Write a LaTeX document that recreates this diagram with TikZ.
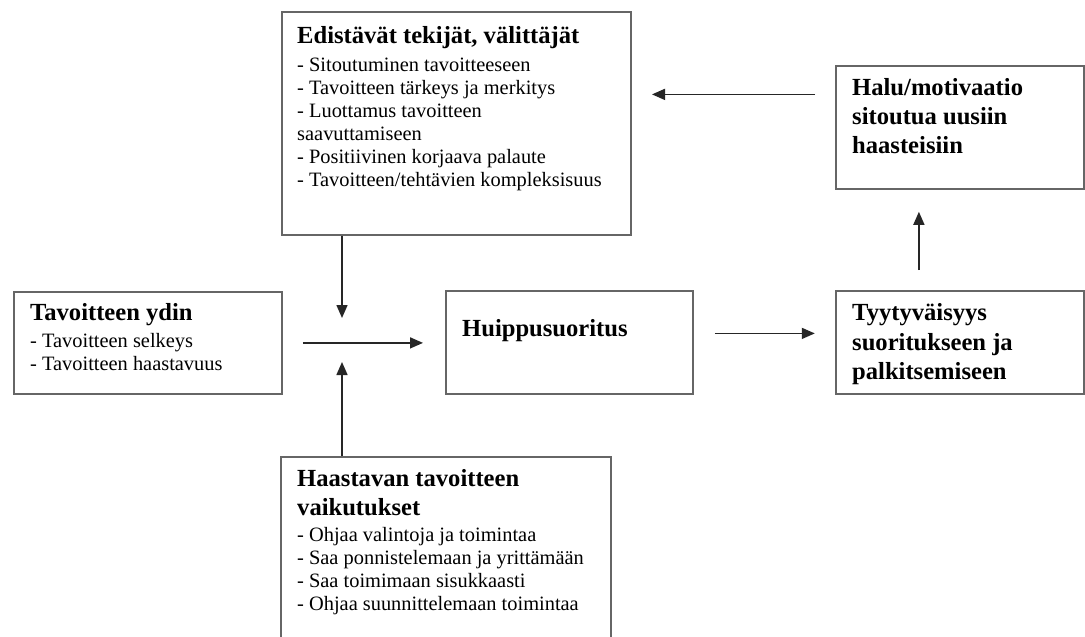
\documentclass[tikz,border=0pt]{standalone}
\usepackage{fontspec}
\setmainfont{Liberation Serif}
\usetikzlibrary{arrows.meta}
\begin{document}
\begin{tikzpicture}[x=1pt,y=-1pt,
	box/.style={draw=black!60, line width=1.8pt, inner sep=0pt, anchor=north west},
	heading/.style={anchor=base west, inner sep=0pt, font=\fontsize{24.6}{29}\selectfont\bfseries},
	item/.style={anchor=base west, inner sep=0pt, font=\fontsize{20.4}{23.4}\selectfont},
	arr/.style={draw=black!85, line width=1.5pt, -{Triangle[length=13pt,width=11pt]}}]
			\useasboundingbox (0,0) rectangle (1085,637);
			\clip (0,0) rectangle (1085,637);
			\fill[white] (0,0) rectangle (1085,637);
			% laatikot
			\node[box, minimum width=349pt, minimum height=223pt] (edist) at (281,11) {};
			\node[box, minimum width=268pt, minimum height=102pt] (ydin) at (13,291) {};
			\node[box, minimum width=247pt, minimum height=103pt] (huippu) at (445,290) {};
			\node[box, minimum width=248pt, minimum height=103pt] (tyyty) at (835,290) {};
			\node[box, minimum width=248pt, minimum height=123pt] (halu) at (835,65) {};
			\node[box, minimum width=330pt, minimum height=204pt] (haast) at (280,456) {};
			% tekstit
			\node[heading] (edist-t) at (297,43) {Edistävät tekijät, välittäjät};
			\foreach \t [count=\i] in {- Sitoutuminen tavoitteeseen, - Tavoitteen tärkeys ja merkitys,
				- Luottamus tavoitteen, saavuttamiseen, - Positiivinen korjaava palaute,
				{- Tavoitteen/tehtävien kompleksisuus}}{
				\node[item] (edist-\i) at (297,{48+23*\i}) {\t};
			}
			\node[heading] (ydin-t) at (30,320) {Tavoitteen ydin};
			\foreach \t [count=\i] in {- Tavoitteen selkeys, - Tavoitteen haastavuus}{
				\node[item] (ydin-\i) at (30,{324+23*\i}) {\t};
			}
			\node[heading] (huippu-t) at (462,336) {Huippusuoritus};
			\foreach \t [count=\i] in {Tyytyväisyys, suoritukseen ja, palkitsemiseen}{
				\node[heading] (tyyty-\i) at (852,{291+29.5*\i}) {\t};
			}
			\foreach \t [count=\i] in {{Halu/motivaatio}, sitoutua uusiin, haasteisiin}{
				\node[heading] (halu-\i) at (852,{66+29*\i}) {\t};
			}
			\foreach \t [count=\i] in {Haastavan tavoitteen, vaikutukset}{
				\node[heading] (haast-t\i) at (297,{457+29*\i}) {\t};
			}
			\foreach \t [count=\i] in {- Ohjaa valintoja ja toimintaa, - Saa ponnistelemaan ja yrittämään,
				- Saa toimimaan sisukkaasti, - Ohjaa suunnittelemaan toimintaa}{
				\node[item] (haast-\i) at (297,{518+23*\i}) {\t};
			}
			% nuolet
			\coordinate (alas) at (342,318);
			\coordinate (ylos) at (342,362);
			\draw[arr] ([xshift=20pt]ydin.east) -- ([xshift=-22pt]huippu.west |- ydin.east);
			\draw[arr] (edist.south -| alas) -- (alas);
			\draw[arr] (haast.north -| ylos) -- (ylos);
			\draw[arr] ([xshift=21pt,yshift=9pt]huippu.east) -- ++(100,0);
			\draw[arr] ([xshift=-41pt,yshift=20pt]tyyty.north) -- ([xshift=-41pt,yshift=-22pt]halu.south);
			\draw[arr] ([xshift=-20pt,yshift=33pt]halu.west) -- ++(-163,0);
		\end{tikzpicture}
\end{document}
